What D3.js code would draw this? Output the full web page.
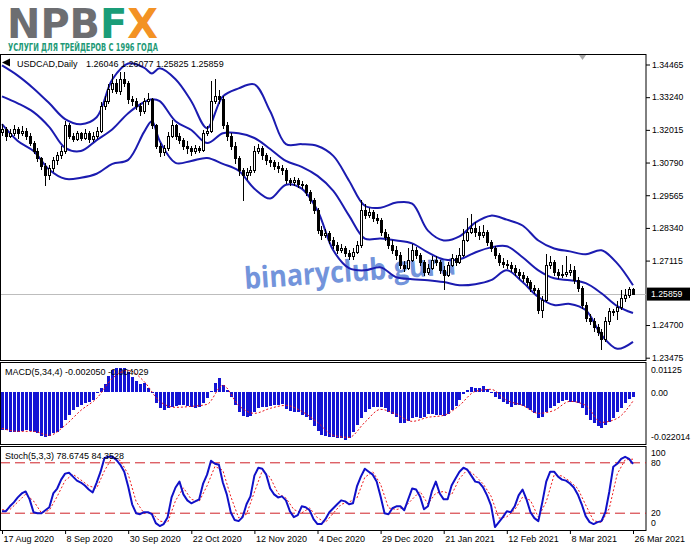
<!DOCTYPE html>
<html>
<head>
<meta charset="utf-8">
<script src="https://cdn.jsdelivr.net/npm/d3@7"></script>
<style>
  body { margin: 0; background: #fff; }
  svg { display: block; }
</style>
</head>
<body>
<div id="chart"></div>
<script>
// bottom time axis
const dateLabels = ["17 Aug 2020", "8 Sep 2020", "30 Sep 2020", "22 Oct 2020", "12 Nov 2020", "4 Dec 2020",
  "29 Dec 2020", "21 Jan 2021", "12 Feb 2021", "8 Mar 2021", "26 Mar 2021"];
const dateLabelBars = [0, 16, 32, 48, 64, 80, 96, 112, 128, 144, 160];

// right price axis
const priceTicks = [1.34465, 1.33240, 1.32015, 1.30790, 1.29565, 1.28340, 1.27115, 1.24700, 1.23475];
const lastPrice = 1.25859;

// USDCAD daily candles, bar 0 = 17 Aug 2020, bar 160 = 26 Mar 2021
const open = [
  1.3190, 1.3204, 1.3178, 1.3189, 1.3204, 1.3186, 1.3197, 1.3178, 1.3152, 1.3122,
  1.3093, 1.3066, 1.3029, 1.3055, 1.3085, 1.3104, 1.3122, 1.3216, 1.3178, 1.3167,
  1.3186, 1.3171, 1.3189, 1.3167, 1.3178, 1.3197, 1.3290, 1.3309, 1.3353, 1.3376,
  1.3346, 1.3391, 1.3376, 1.3316, 1.3309, 1.3290, 1.3271, 1.3309, 1.3316, 1.3216,
  1.3141, 1.3115, 1.3130, 1.3178, 1.3216, 1.3178, 1.3160, 1.3141, 1.3130, 1.3122,
  1.3130, 1.3126, 1.3189, 1.3197, 1.3309, 1.3327, 1.3316, 1.3216, 1.3178, 1.3141,
  1.3093, 1.3048, 1.3029, 1.3040, 1.3048, 1.3122, 1.3130, 1.3104, 1.3085, 1.3078,
  1.3066, 1.3055, 1.3048, 1.3011, 1.3003, 1.3011, 1.2996, 1.2992, 1.2966, 1.2936,
  1.2899, 1.2824, 1.2806, 1.2813, 1.2787, 1.2768, 1.2750, 1.2757, 1.2739, 1.2727,
  1.2742, 1.2768, 1.2899, 1.2880, 1.2891, 1.2869, 1.2862, 1.2817, 1.2798, 1.2768,
  1.2750, 1.2731, 1.2694, 1.2683, 1.2713, 1.2750, 1.2731, 1.2705, 1.2668, 1.2683,
  1.2713, 1.2705, 1.2675, 1.2657, 1.2694, 1.2720, 1.2705, 1.2731, 1.2787, 1.2817,
  1.2832, 1.2817, 1.2806, 1.2817, 1.2780, 1.2757, 1.2731, 1.2705, 1.2698, 1.2694,
  1.2683, 1.2668, 1.2657, 1.2645, 1.2631, 1.2608, 1.2601, 1.2526, 1.2563, 1.2694,
  1.2705, 1.2668, 1.2657, 1.2660, 1.2668, 1.2675, 1.2638, 1.2608, 1.2545, 1.2496,
  1.2482, 1.2459, 1.2441, 1.2414, 1.2482, 1.2519, 1.2519, 1.2534, 1.2571, 1.2582,
  1.26046];
const high = [
  1.3222, 1.3213, 1.3205, 1.3219, 1.3212, 1.3215, 1.3208, 1.3188, 1.3160, 1.3133,
  1.3101, 1.3078, 1.3068, 1.3099, 1.3118, 1.3140, 1.3236, 1.3227, 1.3190, 1.3199,
  1.3195, 1.3203, 1.3198, 1.3192, 1.3212, 1.3305, 1.3328, 1.3372, 1.3412, 1.3394,
  1.3420, 1.3418, 1.3386, 1.3330, 1.3320, 1.3302, 1.3322, 1.3340, 1.3322, 1.3225,
  1.3152, 1.3145, 1.3192, 1.3240, 1.3225, 1.3190, 1.3172, 1.3160, 1.3142, 1.3145,
  1.3140, 1.3200, 1.3215, 1.3383, 1.3394, 1.3350, 1.3330, 1.3230, 1.3190, 1.3155,
  1.3105, 1.3060, 1.3058, 1.3065, 1.3140, 1.3150, 1.3140, 1.3115, 1.3098, 1.3090,
  1.3080, 1.3068, 1.3060, 1.3022, 1.3025, 1.3020, 1.3008, 1.3000, 1.2975, 1.2945,
  1.2908, 1.2840, 1.2830, 1.2822, 1.2800, 1.2780, 1.2775, 1.2768, 1.2750, 1.2758,
  1.2785, 1.2940, 1.2925, 1.2910, 1.2900, 1.2885, 1.2870, 1.2830, 1.2810, 1.2790,
  1.2765, 1.2745, 1.2710, 1.2760, 1.2775, 1.2762, 1.2740, 1.2715, 1.2700, 1.2730,
  1.2728, 1.2712, 1.2690, 1.2708, 1.2735, 1.2732, 1.2760, 1.2830, 1.2870, 1.2888,
  1.2855, 1.2840, 1.2845, 1.2828, 1.2790, 1.2768, 1.2740, 1.2720, 1.2712, 1.2705,
  1.2695, 1.2680, 1.2668, 1.2655, 1.2640, 1.2620, 1.2610, 1.2580, 1.2738, 1.2728,
  1.2712, 1.2680, 1.2695, 1.2728, 1.2700, 1.2690, 1.2650, 1.2615, 1.2555, 1.2510,
  1.2495, 1.2475, 1.2455, 1.2500, 1.2535, 1.2530, 1.2560, 1.2600, 1.2605, 1.2613,
  1.26077];
const low = [
  1.3180, 1.3160, 1.3170, 1.3180, 1.3168, 1.3177, 1.3165, 1.3141, 1.3110, 1.3080,
  1.3052, 1.2992, 1.3015, 1.3043, 1.3071, 1.3092, 1.3112, 1.3166, 1.3155, 1.3158,
  1.3160, 1.3162, 1.3154, 1.3155, 1.3168, 1.3188, 1.3275, 1.3298, 1.3340, 1.3335,
  1.3334, 1.3362, 1.3300, 1.3290, 1.3275, 1.3255, 1.3262, 1.3296, 1.3205, 1.3128,
  1.3100, 1.3105, 1.3122, 1.3170, 1.3165, 1.3148, 1.3125, 1.3112, 1.3105, 1.3110,
  1.3114, 1.3118, 1.3180, 1.3190, 1.3300, 1.3300, 1.3205, 1.3160, 1.3125, 1.3075,
  1.3030, 1.2936, 1.3015, 1.3028, 1.3040, 1.3110, 1.3090, 1.3070, 1.3062, 1.3050,
  1.3040, 1.3032, 1.2998, 1.2990, 1.2992, 1.2985, 1.2978, 1.2955, 1.2922, 1.2885,
  1.2810, 1.2790, 1.2795, 1.2775, 1.2755, 1.2735, 1.2740, 1.2725, 1.2712, 1.2715,
  1.2735, 1.2760, 1.2868, 1.2870, 1.2855, 1.2848, 1.2805, 1.2785, 1.2755, 1.2738,
  1.2715, 1.2680, 1.2668, 1.2675, 1.2705, 1.2718, 1.2690, 1.2655, 1.2658, 1.2675,
  1.2690, 1.2660, 1.2601, 1.2650, 1.2688, 1.2692, 1.2698, 1.2725, 1.2780, 1.2810,
  1.2800, 1.2790, 1.2795, 1.2768, 1.2745, 1.2718, 1.2692, 1.2685, 1.2680, 1.2668,
  1.2655, 1.2642, 1.2630, 1.2618, 1.2595, 1.2585, 1.2512, 1.2496, 1.2555, 1.2680,
  1.2655, 1.2642, 1.2645, 1.2650, 1.2655, 1.2625, 1.2595, 1.2530, 1.2482, 1.2470,
  1.2445, 1.2428, 1.2377, 1.2405, 1.2470, 1.2505, 1.2490, 1.2525, 1.2555, 1.2570,
  1.25825];
const close = [
  1.3204, 1.3178, 1.3189, 1.3204, 1.3186, 1.3197, 1.3178, 1.3152, 1.3122, 1.3093,
  1.3066, 1.3029, 1.3055, 1.3085, 1.3104, 1.3122, 1.3216, 1.3178, 1.3167, 1.3186,
  1.3171, 1.3189, 1.3167, 1.3178, 1.3197, 1.3290, 1.3309, 1.3353, 1.3376, 1.3346,
  1.3391, 1.3376, 1.3316, 1.3309, 1.3290, 1.3271, 1.3309, 1.3316, 1.3216, 1.3141,
  1.3115, 1.3130, 1.3178, 1.3216, 1.3178, 1.3160, 1.3141, 1.3130, 1.3122, 1.3130,
  1.3126, 1.3189, 1.3197, 1.3309, 1.3327, 1.3316, 1.3216, 1.3178, 1.3141, 1.3093,
  1.3048, 1.3029, 1.3040, 1.3048, 1.3122, 1.3130, 1.3104, 1.3085, 1.3078, 1.3066,
  1.3055, 1.3048, 1.3011, 1.3003, 1.3011, 1.2996, 1.2992, 1.2966, 1.2936, 1.2899,
  1.2824, 1.2806, 1.2813, 1.2787, 1.2768, 1.2750, 1.2757, 1.2739, 1.2727, 1.2742,
  1.2768, 1.2899, 1.2880, 1.2891, 1.2869, 1.2862, 1.2817, 1.2798, 1.2768, 1.2750,
  1.2731, 1.2694, 1.2683, 1.2713, 1.2750, 1.2731, 1.2705, 1.2668, 1.2683, 1.2713,
  1.2705, 1.2675, 1.2657, 1.2694, 1.2720, 1.2705, 1.2731, 1.2787, 1.2817, 1.2832,
  1.2817, 1.2806, 1.2817, 1.2780, 1.2757, 1.2731, 1.2705, 1.2698, 1.2694, 1.2683,
  1.2668, 1.2657, 1.2645, 1.2631, 1.2608, 1.2601, 1.2526, 1.2563, 1.2694, 1.2705,
  1.2668, 1.2657, 1.2660, 1.2668, 1.2675, 1.2638, 1.2608, 1.2545, 1.2496, 1.2482,
  1.2459, 1.2441, 1.2414, 1.2482, 1.2519, 1.2519, 1.2534, 1.2571, 1.2582, 1.2605,
  1.25859];

// Bollinger bands, read every few bars
const bbBars = [0, 4, 8, 12, 16, 20, 24, 28, 32, 36, 38, 40, 44, 48, 52, 56, 60, 64, 68, 72, 76,
  80, 84, 88, 92, 96, 100, 104, 108, 112, 116, 120, 124, 128, 132, 136, 140, 144, 148, 152, 156, 160];
const bbUpper = [1.3443, 1.3405, 1.3357, 1.3301, 1.3242, 1.3223, 1.3249, 1.3391, 1.3450, 1.3435, 1.3413,
  1.3432, 1.3391, 1.3309, 1.3208, 1.3327, 1.3357, 1.3372, 1.3271, 1.3148, 1.3148,
  1.3141, 1.3104, 1.3011, 1.2917, 1.2910, 1.2929, 1.2925, 1.2824, 1.2787, 1.2802,
  1.2854, 1.2880, 1.2865, 1.2843, 1.2787, 1.2757, 1.2746, 1.2735, 1.2750, 1.2701, 1.2619];
const bbMiddle = [1.3327, 1.3301, 1.3268, 1.3212, 1.3134, 1.3122, 1.3163, 1.3204, 1.3264, 1.3305, 1.3316,
  1.3309, 1.3234, 1.3201, 1.3152, 1.3189, 1.3189, 1.3171, 1.3130, 1.3085, 1.3063,
  1.3029, 1.2973, 1.2880, 1.2794, 1.2794, 1.2787, 1.2776, 1.2742, 1.2716, 1.2716,
  1.2742, 1.2761, 1.2765, 1.2724, 1.2675, 1.2645, 1.2638, 1.2627, 1.2589, 1.2541, 1.2515];
const bbLower = [1.3223, 1.3160, 1.3122, 1.3052, 1.3018, 1.3022, 1.3037, 1.3074, 1.3089, 1.3193, 1.3234,
  1.3160, 1.3078, 1.3085, 1.3096, 1.3074, 1.3048, 1.2981, 1.2944, 1.2996, 1.2981,
  1.2899, 1.2750, 1.2683, 1.2675, 1.2686, 1.2649, 1.2642, 1.2638, 1.2631, 1.2619,
  1.2623, 1.2638, 1.2675, 1.2631, 1.2575, 1.2545, 1.2549, 1.2526, 1.2433, 1.2381, 1.2407];

// MACD(5,34,4)
const macdHist = [
  -0.01756, -0.01756, -0.01848, -0.01848, -0.01848, -0.01802, -0.01756, -0.01802, -0.01848, -0.01895,
  -0.02033, -0.02080, -0.02033, -0.01895, -0.01848, -0.01664, -0.01294, -0.01063, -0.00832, -0.00693,
  -0.00601, -0.00508, -0.00462, -0.00370, -0.00046, 0.00185, 0.00370, 0.00739, 0.01017, 0.01109,
  0.01125, 0.01109, 0.00924, 0.00693, 0.00508, 0.00370, 0.00416, 0.00185, -0.00020, -0.00508,
  -0.00739, -0.00832, -0.00739, -0.00693, -0.00647, -0.00601, -0.00601, -0.00647, -0.00693, -0.00739,
  -0.00693, -0.00508, -0.00277, 0.00046, 0.00416, 0.00647, 0.00323, 0.00092, -0.00231, -0.00601,
  -0.00924, -0.01109, -0.01155, -0.01109, -0.00924, -0.00739, -0.00693, -0.00693, -0.00647, -0.00601,
  -0.00601, -0.00555, -0.00786, -0.00878, -0.00924, -0.00924, -0.01063, -0.01155, -0.01294, -0.01571,
  -0.01802, -0.01987, -0.02033, -0.02080, -0.02080, -0.02126, -0.02126, -0.022014, -0.02126, -0.01848,
  -0.01525, -0.01201, -0.00924, -0.00786, -0.00693, -0.00693, -0.00693, -0.00739, -0.00924, -0.01017,
  -0.01155, -0.01433, -0.01433, -0.01340, -0.01201, -0.01155, -0.01201, -0.01155, -0.01017, -0.01017,
  -0.01063, -0.01063, -0.01109, -0.01017, -0.00832, -0.00647, -0.00370, -0.00092, 0.00092, 0.00231,
  0.00185, 0.00185, 0.00277, 0.00139, -0.00046, -0.00231, -0.00323, -0.00462, -0.00555, -0.00693,
  -0.00601, -0.00601, -0.00647, -0.00739, -0.00832, -0.00970, -0.01201, -0.01155, -0.00924, -0.00739,
  -0.00647, -0.00508, -0.00416, -0.00370, -0.00462, -0.00462, -0.00508, -0.00739, -0.01063, -0.01294,
  -0.01433, -0.01571, -0.01664, -0.01525, -0.01386, -0.01201, -0.00924, -0.00739, -0.00508, -0.00323,
  -0.00205];
const macdSignalBars = [0, 4, 8, 12, 16, 20, 24, 28, 32, 36, 40, 44, 48, 52, 56, 60, 64, 68, 72, 76,
  80, 84, 88, 92, 96, 100, 104, 108, 112, 116, 120, 124, 128, 132, 136, 140, 144, 148, 152, 156, 160];
const macdSignal = [-0.01664, -0.01802, -0.01802, -0.01987, -0.01525, -0.00832, -0.00277, 0.00647, 0.01017, 0.00508,
  -0.00416, -0.00693, -0.00647, -0.00555, 0.00323, -0.00601, -0.00970, -0.00739, -0.00601, -0.00878,
  -0.01386, -0.01987, -0.02080, -0.01386, -0.00786, -0.01017, -0.01340, -0.01155, -0.01063, -0.00601,
  0.00046, 0.00139, -0.00370, -0.00601, -0.00970, -0.00832, -0.00416, -0.00601, -0.01386, -0.01201, -0.00403];
const macdTicks = [0.01125, 0, -0.022014];
const macdTickLabels = ["0.01125", "0.00", "-0.022014"];

// Stochastic(5,3,3)
const stochMain = [
  22.4, 22.4, 28.2, 32.9, 38.8, 43.5, 45.9, 36.5, 21.2, 20.0,
  20.0, 23.5, 27.1, 43.5, 49.4, 60.0, 67.1, 68.2, 63.5, 58.8,
  56.5, 52.9, 48.2, 44.7, 56.5, 69.4, 85.9, 87.1, 87.1, 83.5,
  77.6, 69.4, 51.8, 30.6, 20.0, 18.8, 21.2, 21.2, 18.8, 8.2,
  4.7, 7.1, 15.3, 38.8, 50.6, 57.6, 42.4, 35.3, 31.8, 34.1,
  36.5, 55.3, 65.9, 82.4, 78.8, 77.6, 56.5, 42.4, 21.2, 11.8,
  10.6, 15.3, 30.6, 40.0, 64.7, 74.1, 72.9, 65.9, 49.4, 42.4,
  38.8, 40.0, 35.3, 22.4, 15.3, 17.6, 28.2, 27.1, 23.5, 12.9,
  7.1, 7.1, 12.9, 21.2, 25.9, 30.6, 35.3, 34.1, 30.6, 31.8,
  51.8, 63.5, 72.9, 69.4, 65.9, 57.6, 40.0, 20.0, 18.8, 25.9,
  28.2, 28.2, 23.5, 36.5, 49.4, 48.2, 40.0, 24.7, 28.2, 45.9,
  57.6, 43.5, 36.5, 36.5, 52.9, 61.2, 69.4, 74.1, 71.8, 64.7,
  57.6, 56.5, 50.6, 41.2, 29.4, 3.5, 9.4, 15.3, 22.4, 21.2,
  28.2, 41.2, 48.2, 36.5, 21.2, 14.1, 10.6, 32.9, 57.6, 69.4,
  69.4, 63.5, 60.0, 58.8, 55.3, 50.6, 42.4, 30.6, 16.5, 9.4,
  7.1, 9.4, 10.6, 21.2, 45.9, 75.3, 78.8, 84.7, 87.1, 84.7,
  78.6745];
const stochSignalBars = d3.range(0, 161, 2);
const stochSignal = [
  24.0, 24.3, 33.3, 42.7, 34.5, 20.4, 23.5, 40.0, 58.8, 66.3,
  59.6, 52.5, 49.8, 70.6, 86.7, 82.7, 66.3, 34.1, 20.0, 20.4,
  10.6, 9.0, 34.9, 50.2, 36.5, 34.1, 52.6, 75.7, 71.0, 40.0,
  14.5, 18.8, 45.1, 70.6, 62.7, 43.5, 38.0, 24.3, 20.4, 26.3,
  14.5, 9.0, 20.0, 30.6, 33.3, 38.1, 62.7, 69.4, 54.5, 26.3,
  24.3, 26.6, 36.5, 45.9, 31.0, 43.9, 45.9, 42.0, 61.2, 71.8,
  64.7, 54.9, 40.4, 14.1, 15.7, 23.9, 39.2, 35.3, 15.3, 33.7,
  65.5, 64.3, 58.0, 49.4, 29.8, 11.0, 9.0, 25.9, 66.7, 83.5,
  84.3528];
const stochLevels = [80, 20];
const stochTicks = [100, 80, 20, 0];

// layout
const width = 691, height = 549;
const plotRight = 646;
const mainTop = 54, mainBottom = 360;
const macdTop = 362, macdBottom = 444;
const stochTop = 446, stochBottom = 530;
const FONT = '"Liberation Sans", Arial, sans-serif';
const AXIS_FONT = 8.7;

const svg = d3.select('#chart').append('svg')
  .attr('width', width).attr('height', height)
  .style('background', '#fff');

const x = d3.scaleLinear().domain([0, 160]).range([2, 633]);
const yMain = d3.scaleLinear().domain([1.34465, 1.23475]).range([64.5, 357.7]);
const yMacd = d3.scaleLinear().domain([0.01125, -0.022014]).range([368, 440]);
const yStoch = d3.scaleLinear().domain([0, 100]).range([stochBottom, stochTop]);

const defs = svg.append('defs');
[['clipMain', mainTop, mainBottom], ['clipMacd', macdTop, macdBottom], ['clipStoch', stochTop, stochBottom]]
  .forEach(([id, t, b]) => {
    defs.append('clipPath').attr('id', id)
      .append('rect').attr('x', 1).attr('y', t + 1).attr('width', plotRight - 1).attr('height', b - t - 1);
  });

// logo
const logo = svg.append('text')
  .attr('x', 7).attr('y', 38)
  .attr('textLength', 151).attr('lengthAdjust', 'spacingAndGlyphs')
  .style('font-family', '"DejaVu Sans", sans-serif')
  .style('font-weight', 'bold').style('font-size', '40px');
logo.append('tspan').attr('fill', '#6d6e71').text('NPB');
logo.append('tspan').attr('fill', '#1a9d78').text('F');
logo.append('tspan').attr('fill', '#f39224').text('X');

svg.append('text')
  .attr('x', 8).attr('y', 51)
  .attr('textLength', 150).attr('lengthAdjust', 'spacingAndGlyphs')
  .style('font-family', '"DejaVu Sans Condensed", "DejaVu Sans", sans-serif')
  .style('font-weight', 'bold').style('font-size', '11px')
  .attr('fill', '#1e9a77')
  .text('УСЛУГИ ДЛЯ ТРЕЙДЕРОВ С 1996 ГОДА');

// panel frames
[[mainTop, mainBottom], [macdTop, macdBottom], [stochTop, stochBottom]].forEach(([t, b]) => {
  svg.append('rect')
    .attr('x', 0.5).attr('y', t + 0.5)
    .attr('width', plotRight - 0.5).attr('height', b - t)
    .attr('fill', 'none').attr('stroke', '#000').attr('stroke-width', 1);
});

// ---------- main panel ----------
const main = svg.append('g').attr('clip-path', 'url(#clipMain)');

// watermark behind the chart
main.append('text')
  .attr('transform', 'translate(245,289) rotate(-4)')
  .attr('textLength', 212).attr('lengthAdjust', 'spacingAndGlyphs')
  .style('font-family', '"Open Sans", "DejaVu Sans", sans-serif')
  .style('font-weight', 'bold').style('font-size', '30px')
  .attr('fill', '#7394db')
  .text('binaryclub.guru');

// last price line
main.append('line')
  .attr('x1', 0).attr('x2', plotRight)
  .attr('y1', Math.round(yMain(lastPrice)) + 0.5).attr('y2', Math.round(yMain(lastPrice)) + 0.5)
  .attr('stroke', '#bdbdbd').attr('stroke-width', 1);

// bollinger bands
const bandLine = vals => d3.line()
  .x((d, i) => x(bbBars[i]))
  .y(d => yMain(d))
  .curve(d3.curveCatmullRom.alpha(0.5))(vals);
[bbUpper, bbMiddle, bbLower].forEach(vals => {
  main.append('path')
    .attr('d', bandLine(vals))
    .attr('fill', 'none').attr('stroke', '#1b1bb0').attr('stroke-width', 2);
});

// candles
const candles = main.append('g').attr('shape-rendering', 'crispEdges');
const bars = d3.range(close.length);
candles.selectAll('line.wick').data(bars).join('line')
  .attr('class', 'wick')
  .attr('x1', i => Math.round(x(i)) + 0.5).attr('x2', i => Math.round(x(i)) + 0.5)
  .attr('y1', i => yMain(high[i])).attr('y2', i => yMain(low[i]))
  .attr('stroke', '#000').attr('stroke-width', 1);
candles.selectAll('rect.body').data(bars).join('rect')
  .attr('class', 'body')
  .attr('x', i => Math.round(x(i)) - 0.5)
  .attr('width', 2)
  .attr('y', i => yMain(Math.max(open[i], close[i])))
  .attr('height', i => Math.max(1, Math.abs(yMain(open[i]) - yMain(close[i]))))
  .attr('fill', i => close[i] >= open[i] ? '#fff' : '#000')
  .attr('stroke', '#000').attr('stroke-width', 1);

// chart shift marker
svg.append('path').attr('d', 'M579,55 L586,55 L582.5,60 Z').attr('fill', '#a8a8a8');

// header
svg.append('path').attr('d', 'M2,62.5 L10,58.5 L10,66.5 Z').attr('fill', '#000');
svg.append('text').attr('x', 17).attr('y', 67)
  .style('font-family', FONT).style('font-size', '9px').attr('fill', '#000')
  .text('USDCAD,Daily');
svg.append('text').attr('x', 86).attr('y', 67)
  .style('font-family', FONT).style('font-size', '9px').attr('fill', '#000')
  .text('1.26046 1.26077 1.25825 1.25859');

// price axis
const priceAxis = d3.axisRight(yMain)
  .tickValues(priceTicks)
  .tickFormat(d3.format('.5f'))
  .tickSize(4).tickPadding(2);
svg.append('g')
  .attr('transform', `translate(${plotRight},0)`)
  .call(priceAxis)
  .attr('font-family', FONT).attr('font-size', AXIS_FONT)
  .call(g => g.select('.domain').remove());

// current price label
const yLast = yMain(lastPrice);
svg.append('rect').attr('x', plotRight + 1).attr('y', yLast - 6.5)
  .attr('width', 43).attr('height', 13).attr('fill', '#000');
svg.append('text').attr('x', plotRight + 5).attr('y', yLast + 3.2)
  .style('font-family', FONT).style('font-size', AXIS_FONT + 'px').attr('fill', '#fff')
  .text(d3.format('.5f')(lastPrice));

// ---------- MACD panel ----------
const macd = svg.append('g').attr('clip-path', 'url(#clipMacd)');
macd.selectAll('rect.hist').data(macdHist).join('rect')
  .attr('class', 'hist')
  .attr('x', (d, i) => Math.round(x(i)) - 1)
  .attr('width', 3)
  .attr('y', d => Math.min(yMacd(0), yMacd(d)))
  .attr('height', d => Math.max(1, Math.abs(yMacd(d) - yMacd(0))))
  .attr('fill', '#1414d4')
  .attr('shape-rendering', 'crispEdges');
macd.append('path')
  .attr('d', d3.line()
    .x((d, i) => x(macdSignalBars[i]))
    .y(d => yMacd(d))
    .curve(d3.curveMonotoneX)(macdSignal))
  .attr('fill', 'none').attr('stroke', '#e8121a').attr('stroke-width', 1)
  .attr('stroke-dasharray', '2,2');

svg.append('text').attr('x', 5).attr('y', 375)
  .style('font-family', FONT).style('font-size', '9px').attr('fill', '#000')
  .text('MACD(5,34,4) -0.002050 -0.004029');

const macdAxis = d3.axisRight(yMacd)
  .tickValues(macdTicks)
  .tickFormat((d, i) => macdTickLabels[i])
  .tickSize(0).tickPadding(5);
svg.append('g')
  .attr('transform', `translate(${plotRight},0)`)
  .call(macdAxis)
  .attr('font-family', FONT).attr('font-size', AXIS_FONT)
  .call(g => g.select('.domain').remove())
  .call(g => g.selectAll('.tick text').attr('y', (d, i) => i === 0 ? 2 : (i === macdTicks.length - 1 ? -3 : 0)));

// ---------- Stochastic panel ----------
const stoch = svg.append('g').attr('clip-path', 'url(#clipStoch)');
stoch.selectAll('line.level').data(stochLevels).join('line')
  .attr('class', 'level')
  .attr('x1', 0).attr('x2', plotRight)
  .attr('y1', d => yStoch(d)).attr('y2', d => yStoch(d))
  .attr('stroke', '#cf2027').attr('stroke-width', 1)
  .attr('stroke-dasharray', '10,5');
stoch.append('path')
  .attr('d', d3.line()
    .x((d, i) => x(stochSignalBars[i]))
    .y(d => yStoch(d))(stochSignal))
  .attr('fill', 'none').attr('stroke', '#f01c1c').attr('stroke-width', 1)
  .attr('stroke-dasharray', '2,2');
stoch.append('path')
  .attr('d', d3.line()
    .x((d, i) => x(i))
    .y(d => yStoch(d))(stochMain))
  .attr('fill', 'none').attr('stroke', '#1010c8').attr('stroke-width', 2)
  .attr('stroke-linejoin', 'round');

svg.append('text').attr('x', 5).attr('y', 459)
  .style('font-family', FONT).style('font-size', '9px').attr('fill', '#000')
  .text('Stoch(5,3,3) 78.6745 84.3528');

const stochAxis = d3.axisRight(yStoch)
  .tickValues(stochTicks)
  .tickFormat(d3.format('d'))
  .tickSize(0).tickPadding(5);
svg.append('g')
  .attr('transform', `translate(${plotRight},0)`)
  .call(stochAxis)
  .attr('font-family', FONT).attr('font-size', AXIS_FONT)
  .call(g => g.select('.domain').remove())
  .call(g => g.selectAll('.tick text').attr('y', d => d === 100 ? 7 : (d === 0 ? -7 : 0)));

// ---------- time axis ----------
const timeAxis = d3.axisBottom(x)
  .tickValues(dateLabelBars)
  .tickFormat((d, i) => dateLabels[i])
  .tickSize(4).tickPadding(2);
svg.append('g')
  .attr('transform', `translate(0,${stochBottom})`)
  .call(timeAxis)
  .attr('font-family', FONT).attr('font-size', 9)
  .call(g => g.select('.domain').remove())
  .call(g => g.selectAll('.tick text').attr('text-anchor', 'start').attr('x', 1));
</script>
</body>
</html>
